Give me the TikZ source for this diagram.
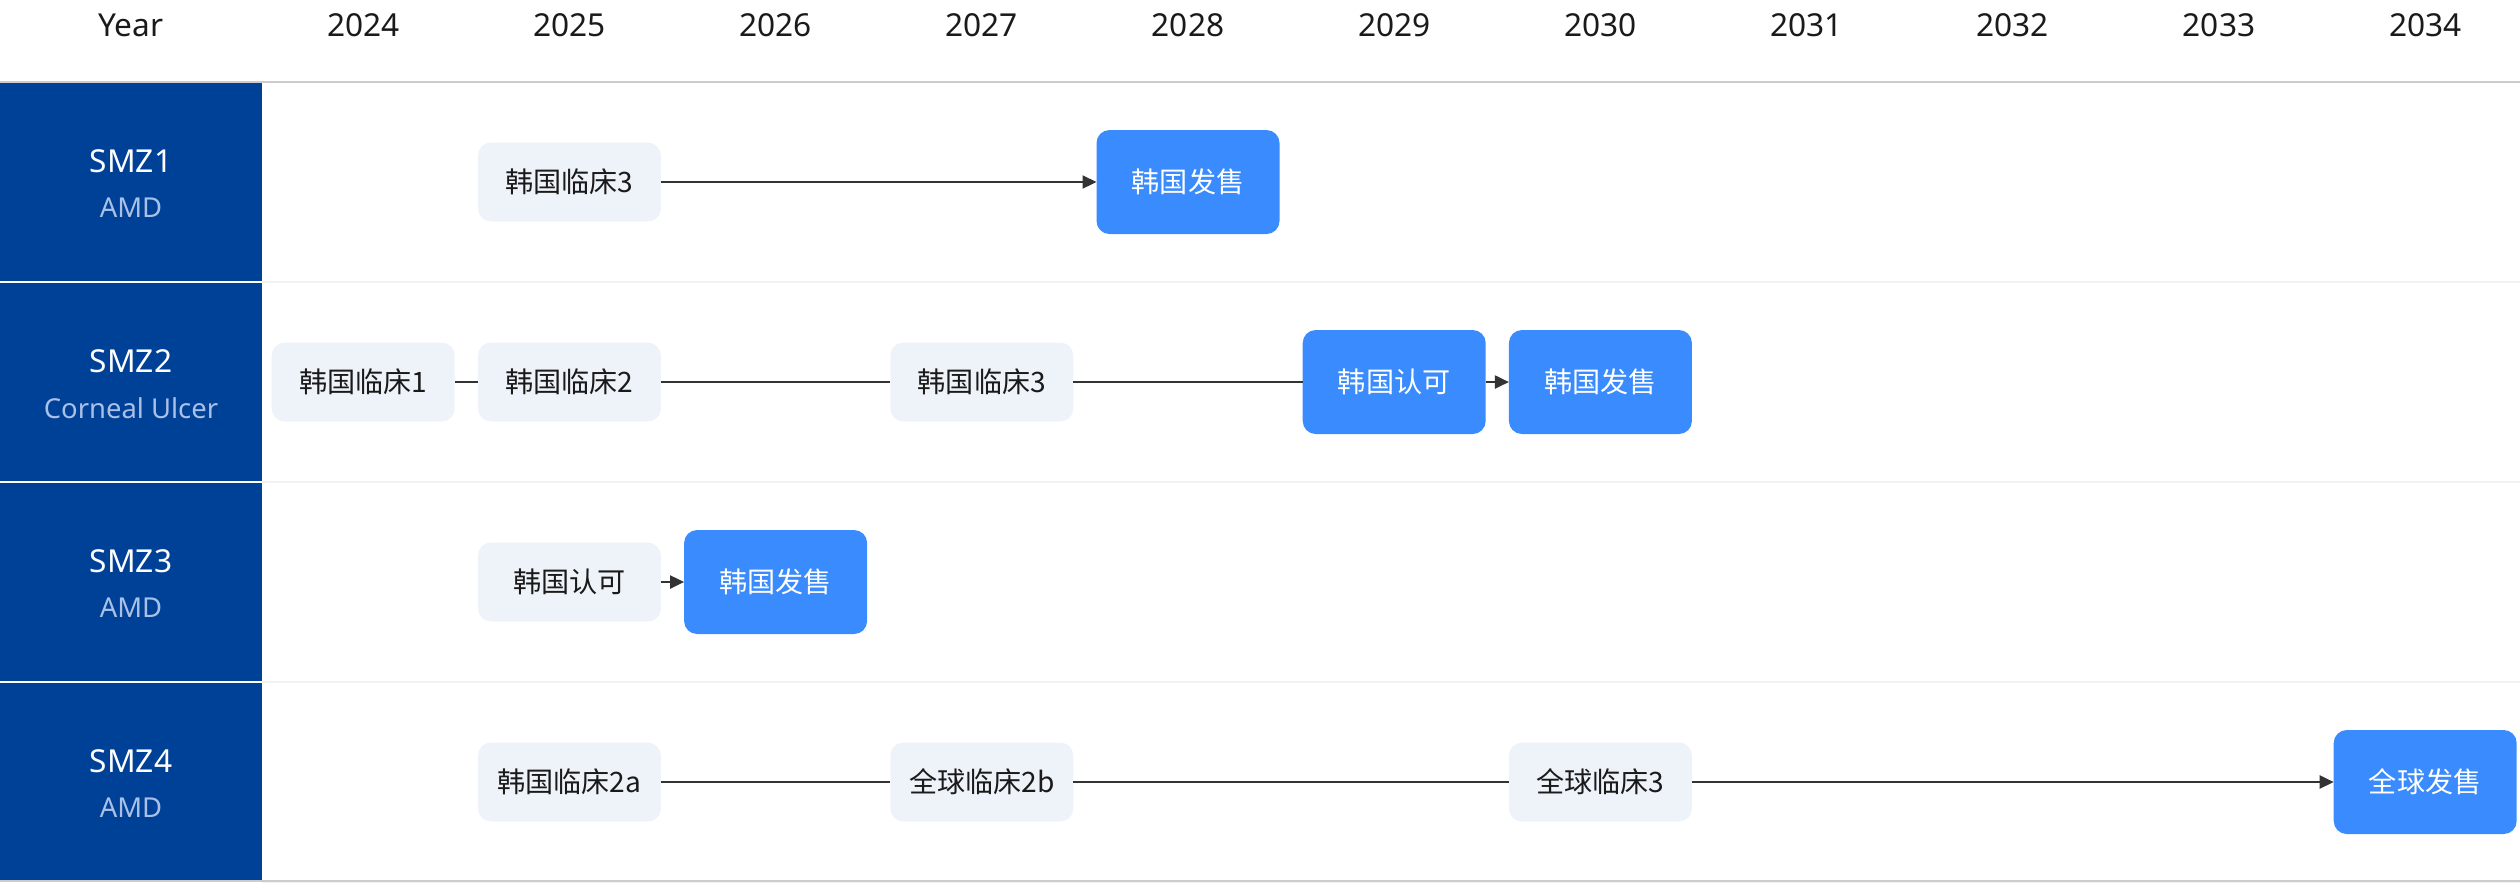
\documentclass[tikz,border=0pt]{standalone}
\usepackage{fontspec}
\setmainfont{Noto Sans}
\newfontfamily\cjk{Noto Sans CJK SC}
\usetikzlibrary{arrows.meta}
\definecolor{drugblue}{RGB}{0,65,152}
\definecolor{subblue}{RGB}{170,192,230}
\definecolor{phasebg}{RGB}{238,242,249}
\definecolor{launchblue}{RGB}{58,139,253}
\definecolor{headline}{RGB}{204,204,204}
\definecolor{rowline}{RGB}{242,242,242}
\definecolor{linkgray}{RGB}{51,51,51}
\definecolor{inkgray}{RGB}{26,26,26}
\tikzset{
  yearlabel/.style={font=\fontsize{9}{11}\selectfont, text=inkgray},
  drugname/.style={font=\fontsize{9}{11}\selectfont, text=white},
  drugsub/.style={font=\fontsize{7.8}{10}\selectfont, text=subblue},
  phase/.style={rectangle, rounded corners=0.13cm, fill=phasebg, minimum width=1.83cm, minimum height=0.79cm, inner sep=0pt, outer sep=0pt, font=\cjk\fontsize{8}{10}\selectfont, text=inkgray},
  launch/.style={phase, fill=launchblue, minimum height=1.04cm, text=white},
  link/.style={draw=linkgray, line width=0.6pt},
  arrow/.style={link, -{Triangle[length=1.4mm, width=1.3mm]}}
}

\begin{document}
\begin{tikzpicture}
    \useasboundingbox (0,0) rectangle (25.2,-8.82);

    % Cabecera de años
    \node[yearlabel] (HYear) at (1.31,-0.25) {Year};
    \foreach \i/\yr in {0/2024, 1/2025, 2/2026, 3/2027, 4/2028, 5/2029, 6/2030, 7/2031, 8/2032, 9/2033, 10/2034} {
        \node[yearlabel] (H\yr) at ({3.632+\i*2.062},-0.25) {\yr};
    }
    \draw[headline, line width=0.6pt] (0,-0.82) -- (25.2,-0.82);

    % Filas de productos
    \foreach \k/\name/\sub in {1/SMZ1/AMD, 2/SMZ2/Corneal Ulcer, 3/SMZ3/AMD, 4/SMZ4/AMD} {
        \fill[drugblue] (0,{-0.83-(\k-1)*2}) rectangle (2.62,{-0.81-\k*2});
        \draw[rowline, line width=0.6pt] (2.62,{-0.82-\k*2}) -- (25.2,{-0.82-\k*2});
        \node[drugname] (D\k) at (1.31,{-1.61-(\k-1)*2}) {\name};
        \node[drugsub] (D\k S) at (1.31,{-2.08-(\k-1)*2}) {\sub};
    }
    \draw[headline, line width=0.6pt] (0,-8.81) -- (25.2,-8.81);

    % SMZ1
    \node[phase] (S1K3) at (5.694,-1.82) {韩国临床3};
    \node[launch] (S1Sale) at (11.880,-1.82) {韩国发售};
    \draw[arrow] (S1K3) -- (S1Sale);

    % SMZ2
    \node[phase] (S2K1) at (3.632,-3.82) {韩国临床1};
    \node[phase] (S2K2) at (5.694,-3.82) {韩国临床2};
    \node[phase] (S2K3) at (9.818,-3.82) {韩国临床3};
    \node[launch] (S2Ok) at (13.942,-3.82) {韩国认可};
    \node[launch] (S2Sale) at (16.004,-3.82) {韩国发售};
    \draw[link] (S2K1) -- (S2K2) -- (S2K3) -- (S2Ok);
    \draw[arrow] (S2Ok) -- (S2Sale);

    % SMZ3
    \node[phase] (S3Ok) at (5.694,-5.82) {韩国认可};
    \node[launch] (S3Sale) at (7.756,-5.82) {韩国发售};
    \draw[arrow] (S3Ok) -- (S3Sale);

    % SMZ4
    \node[phase] (S4K2a) at (5.694,-7.82) {韩国临床2a};
    \node[phase] (S4G2b) at (9.818,-7.82) {全球临床2b};
    \node[phase] (S4G3) at (16.004,-7.82) {全球临床3};
    \node[launch] (S4Sale) at (24.252,-7.82) {全球发售};
    \draw[link] (S4K2a) -- (S4G2b) -- (S4G3);
    \draw[arrow] (S4G3) -- (S4Sale);

\end{tikzpicture}
\end{document}
